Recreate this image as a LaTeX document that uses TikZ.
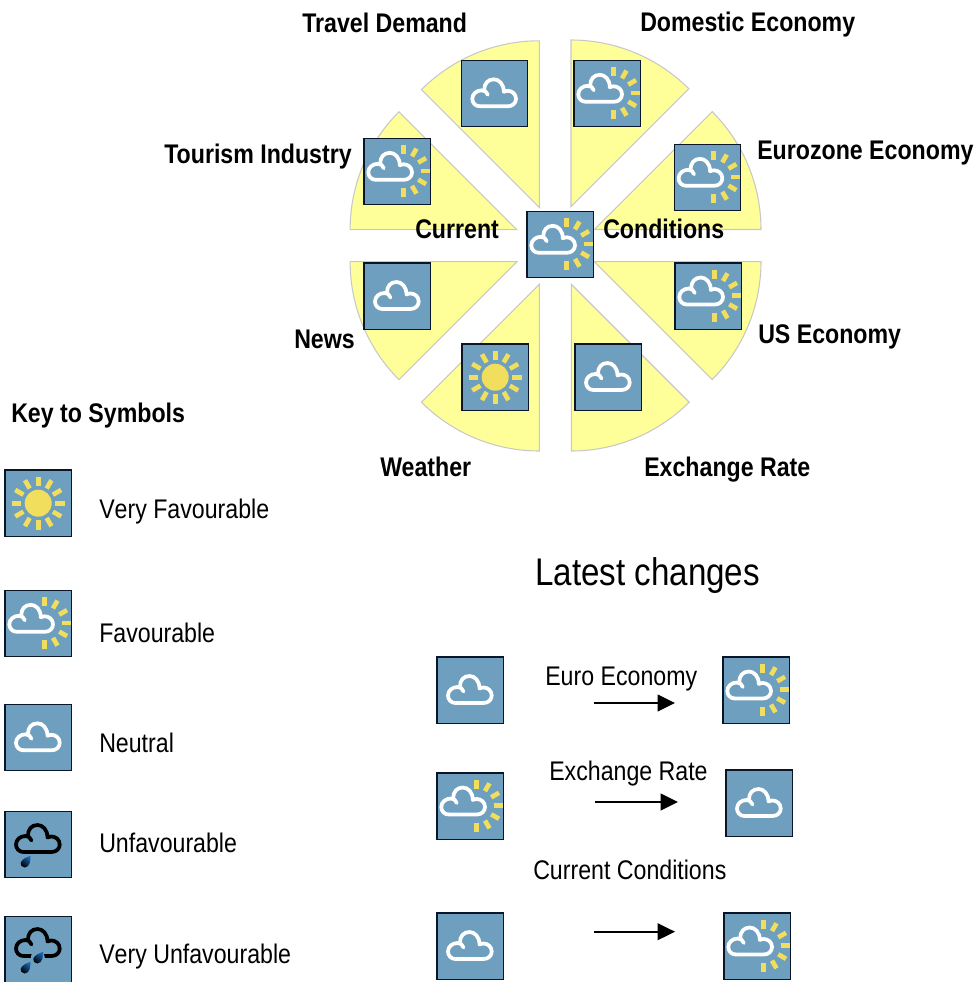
\documentclass[tikz,border=0pt]{standalone}
\usepackage{fontspec}
\usetikzlibrary{arrows.meta}
\newfontfamily\lblreg[FakeStretch=0.86]{Liberation Sans}
\newfontfamily\lblregnk[FakeStretch=0.86,Kerning=Off]{Liberation Sans}
\newfontfamily\lblbold[FakeStretch=0.86]{Liberation Sans Bold}
\definecolor{skyb}{HTML}{6E9FBF}
\definecolor{rayy}{HTML}{F0DE5C}
\definecolor{wedgey}{HTML}{FFFF99}
\definecolor{wedgel}{HTML}{C8C8C8}
\definecolor{boxl}{HTML}{0A1628}
\definecolor{dropb}{HTML}{1A66B8}
\tikzset{
  wedge/.style={fill=wedgey,draw=wedgel,line width=.8pt},
  iconbox/.style={draw=boxl,fill=skyb,line width=1pt,minimum size=49.8pt,inner sep=0pt,outer sep=0pt,anchor=north west,xshift=.3pt,yshift=-.3pt},
  cloudline/.style={line width=2.8pt,line cap=round,line join=round},
  ray/.style={rayy,line width=3.5pt},
  chg/.style={-{Triangle[length=13pt,width=12.5pt]},line width=1.2pt,black},
  boldlabel/.style={anchor=base west,inner sep=0pt,font=\fontsize{20.2pt}{24pt}\lblbold},
  keylabel/.style={anchor=base west,inner sep=0pt,font=\fontsize{20.2pt}{24pt}\lblreg},
  keylabelnk/.style={anchor=base west,inner sep=0pt,font=\fontsize{20.2pt}{24pt}\lblregnk},
  bigtitle/.style={anchor=base west,inner sep=0pt,font=\fontsize{28.9pt}{32pt}\lblreg}
}
\newcommand{\cloudglyph}[3]{% dx dy colour
  \draw[cloudline,#3,shift={(#1,#2)}]
    (19,46.5) -- (47,46.5) .. controls (52,46.5) and (55.2,43) .. (55.2,39)
    .. controls (55.2,34) and (51,31) .. (47,31) .. controls (45.5,31) and (44,31.5) .. (43,32)
    .. controls (43,24) and (38,19.5) .. (33,19.5) .. controls (27,19.5) and (23.5,24) .. (23.5,29.5);
  \draw[cloudline,#3,shift={(#1,#2)}]
    (19,46.5) .. controls (14.5,46.5) and (11.5,43) .. (11.5,39)
    .. controls (11.5,34) and (16,30.5) .. (21,30.5) .. controls (24,30.5) and (26,32) .. (27,35);
}
\newcommand{\dropglyph}[2]{%
  \shade[top color=dropb,bottom color=black,shading angle=-40,shift={(#1,#2)}]
    (5.3,-6) .. controls (5.3,-2) and (5,5.5) .. (-0.5,5.7)
    .. controls (-3.5,5.7) and (-5,3) .. (-4.5,1)
    .. controls (-3.5,-2.5) and (1,-4.5) .. (5.3,-6) -- cycle;
}
\newcommand{\wxicon}[4]{% name x y kind: 1 sun, 2 fav, 3 neutral, 4 unfav, 5 very unfav
  \node[iconbox] (#1) at (#2,#3) {};
  \begin{scope}[shift={(#2,#3)}]
    \ifcase#4\or
      \fill[rayy] (33.7,33.7) circle[radius=13.5];
      \foreach \a in {0,30,...,330}{\draw[ray] (33.7,33.7) ++(\a:17) -- ++(\a:9.5);}
    \or
      \cloudglyph{-6.7}{-4.5}{white}
      \foreach \a in {-90,-60,-30,0,30,60,90}{\draw[ray] (40,33.3) ++(\a:17) -- ++(\a:9);}
    \or
      \cloudglyph{0}{0}{white}
    \or
      \cloudglyph{0}{-5.3}{black}
      \dropglyph{20.7}{51}
    \or
      \cloudglyph{0}{-6.3}{black}
      \fill[skyb] (33.3,42) circle[radius=7];
      \dropglyph{20.7}{52}
      \dropglyph{33.3}{42}
    \fi
  \end{scope}
}
\begin{document}
\begin{tikzpicture}[x=.75pt,y=-.75pt]
\useasboundingbox (0,0) rectangle (977,982);
% wedges
\draw[wedge] (571,206.7) -- ++(-90:166.7) arc[start angle=-90,end angle=-45,radius=166.7] -- cycle;
\draw[wedge] (594.3,229.5) -- ++(-45:166.7) arc[start angle=-45,end angle=0,radius=166.7] -- cycle;
\draw[wedge] (594.3,261.7) -- ++(0:166.7) arc[start angle=0,end angle=45,radius=166.7] -- cycle;
\draw[wedge] (571.3,284.3) -- ++(45:166.7) arc[start angle=45,end angle=90,radius=166.7] -- cycle;
\draw[wedge] (539.3,284.3) -- ++(90:166.7) arc[start angle=90,end angle=135,radius=166.7] -- cycle;
\draw[wedge] (516.8,261.7) -- ++(135:166.7) arc[start angle=135,end angle=180,radius=166.7] -- cycle;
\draw[wedge] (516.8,229.7) -- ++(180:166.7) arc[start angle=180,end angle=225,radius=166.7] -- cycle;
\draw[wedge] (539.3,207.5) -- ++(225:166.7) arc[start angle=225,end angle=270,radius=166.7] -- cycle;
% wheel icons
\wxicon{travel}{460.8}{59.8}{3}
\wxicon{domestic}{573.5}{59.8}{2}
\wxicon{euroz}{673.8}{143.8}{2}
\wxicon{tourism}{363.5}{137.8}{2}
\wxicon{centre}{526.5}{210.8}{2}
\wxicon{useco}{674.5}{262.5}{2}
\wxicon{news}{363.5}{262.5}{3}
\wxicon{weather}{461.5}{343.5}{1}
\wxicon{exch}{574.5}{343.5}{3}
% wheel labels
\node[boldlabel] (l1) at (302,32) {Travel Demand};
\node[boldlabel] (l2) at (640,31) {Domestic Economy};
\node[boldlabel] (l3) at (757,159) {Eurozone Economy};
\node[boldlabel] (l4) at (164,163) {Tourism Industry};
\node[boldlabel] (l5) at (415,238) {Current};
\node[boldlabel] (l6) at (603,238) {Conditions};
\node[boldlabel] (l7) at (294,348) {News};
\node[boldlabel] (l8) at (758,343) {US Economy};
\node[boldlabel] (l9) at (380,476) {Weather};
\node[boldlabel] (l10) at (644,476) {Exchange Rate};
% key
\node[boldlabel] (keyt) at (11,422) {Key to Symbols};
\wxicon{k1}{4.5}{469.5}{1}
\wxicon{k2}{4.5}{589.8}{2}
\wxicon{k3}{4.5}{703.8}{3}
\wxicon{k4}{4.5}{810.8}{4}
\wxicon{k5}{4.5}{915.8}{5}
\node[keylabelnk] (kl1) at (99,518) {Very Favourable};
\node[keylabel] (kl2) at (99,642) {Favourable};
\node[keylabel] (kl3) at (99,752) {Neutral};
\node[keylabel] (kl4) at (99,852) {Unfavourable};
\node[keylabelnk] (kl5) at (99,963) {Very Unfavourable};
% latest changes
\node[bigtitle] (lt) at (535,585) {Latest changes};
\wxicon{a1}{436.5}{656.5}{3}
\wxicon{a2}{722.5}{656.5}{2}
\wxicon{b1}{436.5}{772.5}{2}
\wxicon{b2}{725.5}{769.5}{3}
\wxicon{c1}{436.5}{912.5}{3}
\wxicon{c2}{723.5}{912.5}{2}
\node[keylabel] (tA) at (545,685) {Euro Economy};
\node[keylabel] (tB) at (549,780) {Exchange Rate};
\node[keylabel] (tC) at (533,879) {Current Conditions};
\coordinate (a1o) at (594,703); \coordinate (a2i) at (675,703);
\coordinate (b1o) at (595,802); \coordinate (b2i) at (678,802);
\coordinate (c1o) at (594,931.7); \coordinate (c2i) at (675,931.7);
\draw[chg] (a1o) -- (a2i);
\draw[chg] (b1o) -- (b2i);
\draw[chg] (c1o) -- (c2i);
\end{tikzpicture}
\end{document}
